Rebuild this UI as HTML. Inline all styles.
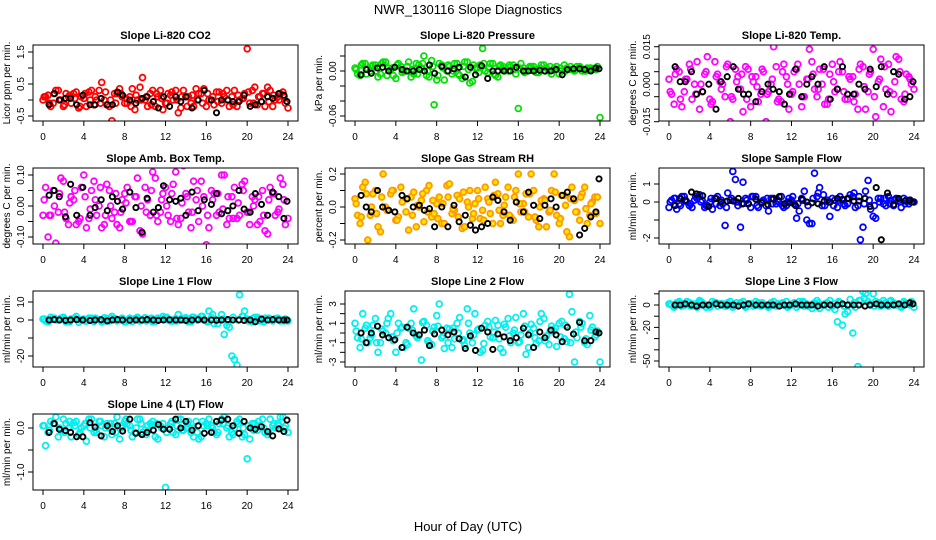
<!DOCTYPE html>
<html><head><meta charset="utf-8"><style>
html,body{margin:0;padding:0;background:#fff;}
svg{display:block;font-family:"Liberation Sans",Arial,sans-serif;}
</style></head><body>
<svg id="chart" width="936" height="540" viewBox="0 0 936 540">
<text x="468" y="14" text-anchor="middle" font-size="13">NWR_130116  Slope Diagnostics</text>
<text x="468" y="531" text-anchor="middle" font-size="13">Hour of Day (UTC)</text>
</svg>
<script>
// ---- shared hour arrays ----
const hoursA = [0,0.5,1,1.5,2,2.5,3,3.5,4,4.5,5,5.5,6,6.5,7,7.5,8,8.5,9,9.5,10,10.5,11,11.5,12,12.5,13,13.5,14,14.5,15,15.5,16,16.5,17,17.5,18,18.5,19,19.5,20,20.5,21,21.5,22,22.5,23,23.5,24];
const hoursB = [0.25,0.75,1.25,1.75,2.25,2.75,3.25,3.75,4.25,4.75,5.25,5.75,6.25,6.75,7.25,7.75,8.25,8.75,9.25,9.75,10.25,10.75,11.25,11.75,12.25,12.75,13.25,13.75,14.25,14.75,15.25,15.75,16.25,16.75,17.25,17.75,18.25,18.75,19.25,19.75,20.25,20.75,21.25,21.75,22.25,22.75,23.25,23.75];
const hoursC = [0.12,0.62,1.12,1.62,2.12,2.62,3.12,3.62,4.12,4.62,5.12,5.62,6.12,6.62,7.12,7.62,8.12,8.62,9.12,9.62,10.12,10.62,11.12,11.62,12.12,12.62,13.12,13.62,14.12,14.62,15.12,15.62,16.12,16.62,17.12,17.62,18.12,18.62,19.12,19.62,20.12,20.62,21.12,21.62,22.12,22.62,23.12,23.62];
const hoursK = [0.6,1.1,1.6,2.2,2.7,3.3,3.9,4.6,5.1,5.7,6.3,6.8,7.3,7.8,8.5,9.1,9.7,10.2,10.8,11.3,11.8,12.4,13,13.5,14,14.6,15.2,15.8,16.5,17,17.5,18.1,18.6,19.2,19.7,20.3,20.8,21.4,22,22.5,23.1,23.6,23.9];
const xTicks = [0,4,8,12,16,20,24];

// ---- P1 CO2 ----
const co2A = [0.0,0.15,-0.1,0.3,-0.2,0.1,0.2,-0.25,0.05,0.25,-0.15,0.3,0.0,-0.2,0.2,0.35,-0.1,0.1,-0.3,0.4,0.0,0.2,-0.2,0.3,-0.1,0.15,0.3,-0.25,0.1,-0.1,0.35,0.2,-0.2,0.0,0.25,-0.1,0.3,0.1,-0.2,0.05,1.6,0.3,-0.15,0.2,0.4,-0.2,0.1,0.25,-0.25];
const co2B = [0.1,-0.2,0.3,0.0,0.2,-0.1,0.25,0.1,-0.2,0.3,0.0,0.55,-0.15,-0.65,0.2,0.1,-0.1,0.35,0.0,0.7,-0.2,0.3,0.1,-0.3,0.2,0.0,-0.4,0.3,0.1,-0.2,0.2,0.35,0.0,-0.15,0.25,0.1,-0.2,0.3,0.0,0.2,-0.1,0.4,0.1,-0.2,0.3,0.0,0.2,-0.1];
const co2C = [0.1,-0.1,0.2,0.0,-0.15,0.15,0.05,-0.2,0.2,0.0,0.1,-0.1,0.25,0.0,-0.1,0.2,0.05,-0.2,0.15,0.0,0.1,-0.15,0.2,0.05,-0.1,0.25,0.0,0.1,-0.2,0.15,0.0,-0.1,0.2,0.1,-0.05,0.2,0.0,-0.15,0.15,0.05,0.25,-0.1,0.1,0.2,-0.05,0.15,0.0,0.1];
const co2K = [-0.15,0.2,0.0,0.05,0.05,-0.15,0.15,-0.15,-0.15,0.05,-0.15,-0.15,0.25,0.15,0.0,-0.1,0.05,0.1,-0.05,-0.25,0.1,-0.2,0.1,-0.05,0.1,-0.25,0.0,0.3,0.0,-0.4,0.0,0.0,-0.05,-0.05,0.15,-0.2,-0.15,-0.05,0.1,0.05,0.2,0.15,-0.05];
const co2Ticks = [-0.5,0,0.5,1,1.5];
const co2Labels = ["-0.5","","0.5","","1.5"];

// ---- P2 Pressure ----
const presA = [0.004,-0.006,0.01,0.0,0.008,-0.004,0.012,0.002,-0.01,0.006,0.0,-0.008,0.01,0.004,-0.006,0.014,-0.012,0.008,0.0,-0.004,0.01,-0.01,0.012,-0.014,0.004,0.03,-0.002,0.01,-0.008,0.006,0.0,0.008,-0.05,0.004,0.004,0.006,-0.002,0.008,0.0,0.004,-0.004,0.008,0.002,0.0,0.006,0.0,0.004,0.002,-0.062];
const presB = [-0.004,0.01,0.002,0.008,-0.008,0.012,0.004,-0.006,0.01,0.0,0.012,-0.004,0.008,0.02,-0.008,-0.045,0.01,-0.012,0.006,0.01,-0.006,0.012,-0.016,0.004,0.008,0.0,0.01,-0.006,0.008,0.002,0.006,-0.004,0.01,0.0,0.006,-0.002,0.008,0.004,-0.004,0.006,0.0,0.004,0.002,0.006,0.0,0.004,0.002,0.006];
const presC = [0.002,0.008,-0.004,0.006,0.0,0.01,-0.006,0.004,0.008,-0.002,0.006,0.002,-0.004,0.01,0.0,0.006,-0.006,0.004,0.008,0.0,-0.004,0.006,0.002,0.008,-0.002,0.01,0.004,-0.004,0.006,0.0,0.008,0.002,0.004,-0.002,0.006,0.002,0.004,0.0,0.006,0.002,0.004,0.0,0.006,0.002,0.004,0.0,0.004,0.002];
const presK = [-0.005,0.002,-0.003,0.004,0.005,0.0,0.005,0.002,0.0,0.0,0.002,0.0,0.008,-0.003,0.006,0.0,0.003,0.005,-0.008,0.005,-0.005,0.007,-0.01,0.0,0.0,0.0,0.0,0.005,0.0,0.0,0.0,0.001,0.0,0.0,0.002,-0.005,0.002,0.003,0.003,0.002,0.0,0.004,0.003];
const presTicks = [-0.06,-0.04,-0.02,0,0.02];
const presLabels = ["-0.06","","","0.00",""];

// ---- P3 Li-820 Temp ----
const tempA = [0.002,-0.008,0.005,-0.003,0.008,0.0,-0.01,0.004,-0.006,0.009,0.001,-0.005,-0.015,0.006,-0.002,0.007,-0.009,0.003,-0.004,-0.015,0.0,0.007,-0.007,0.003,-0.004,0.006,-0.009,0.002,0.009,-0.005,0.0,-0.008,0.008,-0.002,0.005,-0.006,0.003,-0.01,0.007,-0.003,0.014,0.001,-0.009,0.008,-0.004,0.01,-0.007,0.003,-0.002];
const tempB = [-0.004,0.006,-0.009,0.002,-0.006,0.009,-0.003,0.011,-0.007,0.004,0.0,0.008,-0.006,0.003,-0.011,0.006,0.001,-0.007,0.005,-0.003,0.015,-0.006,0.008,-0.01,0.005,0.0,-0.005,0.014,-0.002,0.006,-0.008,0.004,-0.003,0.009,-0.006,0.002,-0.004,0.008,-0.01,0.005,-0.013,0.01,-0.002,-0.011,0.011,-0.006,0.004,0.0];
const tempC = [-0.003,0.004,-0.006,0.002,0.006,-0.004,0.0,0.005,-0.008,0.003,-0.002,0.007,-0.005,0.001,0.004,-0.006,0.003,-0.001,0.006,-0.004,0.002,-0.007,0.005,0.0,-0.003,0.008,-0.005,0.002,0.004,-0.002,0.006,-0.006,0.001,0.005,-0.003,0.003,-0.007,0.006,-0.001,0.004,-0.005,0.002,0.007,-0.003,0.001,0.005,-0.004,0.002];
const tempK = [0.007,0.001,0.001,0.005,-0.004,-0.003,0.0,-0.01,0.001,0.003,0.007,-0.002,-0.004,-0.004,-0.007,-0.003,0.0,-0.002,-0.003,-0.008,-0.004,0.006,-0.005,0.0,0.003,0.0,0.007,-0.006,-0.002,0.007,-0.004,-0.004,0.0,-0.002,0.006,-0.001,0.007,-0.004,0.005,0.004,-0.006,-0.005,0.001];
const tempTicks = [-0.015,-0.01,-0.005,0,0.005,0.01,0.015];
const tempLabels = ["-0.015","","","0.000","","","0.015"];

// ---- P4 Amb Box Temp ----
const ambA = [-0.03,-0.1,0.05,-0.02,0.08,-0.06,0.02,-0.05,0.1,-0.04,0.08,0.0,-0.06,0.05,-0.02,-0.07,0.04,-0.05,0.03,-0.08,0.06,-0.03,0.09,-0.02,0.06,-0.05,0.11,-0.04,0.04,-0.07,0.02,0.08,-0.125,0.05,-0.03,0.1,-0.06,0.03,-0.04,0.07,-0.02,0.03,-0.06,0.05,-0.09,0.04,-0.02,0.07,-0.04];
const ambB = [0.06,-0.03,-0.12,0.09,-0.04,0.03,-0.06,0.06,-0.07,0.05,-0.03,-0.07,0.07,-0.04,-0.06,0.02,0.06,-0.05,0.09,-0.09,0.02,0.11,-0.05,0.04,-0.03,0.07,-0.06,0.13,-0.02,0.08,-0.05,0.03,-0.07,0.04,-0.02,0.1,-0.04,0.06,-0.03,0.08,-0.06,0.02,-0.05,-0.08,0.06,-0.03,0.09,-0.06];
const ambC = [0.02,-0.03,0.0,0.04,-0.02,0.01,0.05,-0.04,0.03,-0.01,0.02,0.06,-0.03,0.0,0.04,-0.02,0.01,-0.05,0.03,0.0,-0.02,0.05,-0.03,0.02,0.0,0.04,-0.04,0.01,0.03,-0.02,0.05,0.0,-0.03,0.02,0.04,-0.01,0.03,-0.04,0.01,0.05,-0.02,0.0,0.03,-0.03,0.02,0.04,-0.01,0.02];
const ambK = [0.035,0.05,0.03,-0.035,0.07,-0.03,0.06,-0.03,-0.005,0.02,-0.015,0.03,0.015,-0.01,0.045,-0.005,-0.085,0.025,-0.02,-0.005,0.065,0.02,0.015,0.025,-0.03,0.045,-0.015,0.02,0.005,0.04,-0.025,-0.015,0.0,0.05,-0.01,-0.02,0.04,0.005,-0.03,0.045,0.03,-0.04,0.015];
const ambTicks = [-0.1,-0.05,0,0.05,0.1];
const ambLabels = ["-0.10","","0.00","","0.10"];

// ---- P5 Gas Stream RH ----
const rhA = [0.05,-0.1,0.15,-0.05,0.1,-0.15,0.0,0.08,-0.08,0.12,-0.03,0.06,-0.12,0.04,0.1,-0.06,0.02,-0.1,0.13,-0.04,0.07,-0.13,0.03,-0.07,0.1,-0.02,0.05,-0.1,0.08,-0.05,0.12,-0.08,0.2,0.02,-0.06,0.1,-0.12,0.05,-0.03,0.2,-0.1,0.07,-0.18,0.04,-0.08,0.12,-0.05,0.06,-0.1];
const rhB = [-0.05,0.12,-0.2,0.08,-0.12,0.2,-0.02,0.1,-0.06,0.04,-0.14,0.09,0.0,-0.09,0.13,-0.04,0.06,-0.1,0.14,-0.02,0.05,-0.12,0.1,0.02,-0.07,0.12,-0.04,0.15,-0.1,0.06,-0.06,0.1,-0.03,0.08,0.2,-0.08,0.04,-0.12,0.1,-0.05,0.07,-0.15,0.12,-0.03,0.08,-0.1,0.03,0.06];
const rhC = [0.02,-0.06,0.08,0.0,-0.04,0.06,-0.02,0.1,-0.08,0.03,0.05,-0.05,0.01,0.08,-0.03,0.04,-0.07,0.02,0.06,-0.01,-0.06,0.09,0.0,-0.04,0.05,-0.08,0.03,0.07,-0.02,0.01,-0.05,0.06,0.02,-0.03,0.08,-0.06,0.0,0.04,-0.02,0.09,-0.07,0.01,0.05,-0.03,0.06,-0.01,0.02,-0.04];
const rhK = [0.07,0.0,-0.03,0.1,0.0,-0.02,-0.03,0.07,0.05,0.0,0.01,-0.02,-0.01,-0.12,0.0,-0.12,0.01,-0.09,-0.05,-0.11,-0.14,-0.12,-0.1,0.06,0.04,-0.03,-0.08,0.03,-0.03,0.09,0.01,-0.07,0.01,0.05,0.0,0.07,0.09,0.05,-0.17,-0.13,-0.06,-0.03,0.17];
const rhTicks = [-0.2,-0.1,0,0.1,0.2];
const rhLabels = ["-0.2","","0.0","","0.2"];

// ---- P6 Sample Flow ----
const sfA = [-0.3,0.2,-0.1,0.3,-0.2,0.1,0.4,-0.3,0.0,0.2,-0.2,-1.3,0.1,1.25,-1.4,0.2,-0.3,0.3,0.0,-0.2,0.2,-0.1,0.3,-0.2,0.1,-0.9,0.2,-1.0,-1.2,0.3,-0.2,0.1,0.2,-0.3,0.1,-0.1,0.3,-0.2,-1.4,1.2,-0.8,0.2,-0.1,0.3,-0.2,0.1,0.2,-0.1,0.0];
const sfB = [0.1,-0.4,0.3,0.0,-0.3,0.2,0.1,-0.2,-0.4,0.3,-0.1,0.5,1.7,-0.2,1.1,-0.1,0.3,-0.3,0.1,-0.5,0.2,0.0,-0.3,0.2,-0.1,-0.5,0.6,-1.2,1.6,0.8,-0.2,-0.8,0.1,0.3,-0.2,0.4,-0.3,-2.1,0.6,-0.4,-0.9,0.2,-0.2,0.1,0.2,-0.3,0.1,0.0];
const sfC = [0.0,0.2,-0.2,0.1,-0.1,0.3,0.0,-0.2,0.2,-0.1,0.1,-0.3,0.2,0.0,-0.1,0.1,0.3,-0.2,0.0,0.2,-0.1,0.1,-0.2,0.0,0.3,-0.1,0.1,-0.2,0.2,0.5,0.4,0.0,-0.2,0.1,-0.1,0.2,0.5,0.3,-0.1,0.1,-0.2,0.0,0.2,-0.1,0.1,0.0,-0.1,0.1];
const sfK = [-0.2,0.2,0.1,0.55,0.45,0.35,-0.25,0.2,0.0,0.05,0.05,0.2,-0.1,-0.1,0.15,-0.05,-0.15,0.15,0.3,-0.1,-0.05,-0.2,0.15,0.0,-0.05,-0.1,0.05,0.0,0.2,0.15,0.2,0.05,0.05,0.2,-0.25,0.8,-2.1,0.5,-0.15,0.2,0.05,0.1,0.0];
const sfTicks = [-2,-1,0,1];
const sfLabels = ["-2","","0","1"];

// ---- P7 Line 1 Flow ----
const l1A = [0.5,-1,1,0,1.5,-0.5,0.8,-1.2,0.5,1,-0.8,0.2,1.2,-0.5,0.8,0,-1,1,0.5,-0.5,1.2,0,-0.8,0.6,1.5,-0.6,0.8,0,1.2,-1,0.8,2,-0.5,1.2,0,3,-3,-20,-25,2,0.5,-1,1.5,0,0.8,-0.5,1,0,-0.5];
const l1B = [-0.5,1.5,0,1,-1,0.5,2,0,-0.6,1,0.5,-1,0.8,2,-0.5,1,0,-0.8,1.5,0,0.5,-1,1,2,0,-0.5,3,0,-1,1.5,0.5,0,5,-2,0,-8,-4,-22,14,5,0,1.5,-0.5,1,0,0.8,-0.5,0.5];
const l1C = [0.5,-0.5,1,0,0.5,-1,1,0,-0.5,0.5,1,0,-0.5,1,0.5,0,-1,0.5,1,0,-0.5,1,0,0.5,1.5,0,-0.5,1,0.5,1.5,0,2,-1,3,-2,0.5,-1,1.5,0,2,-0.5,1,0.5,-1,1,0,0.5,-0.5];
const l1K = [0,0.2,0,-0.2,0,0.2,0,-0.3,0,0.1,-0.5,0,0.2,0,-0.1,0,0,0.2,0,-0.2,0,0.1,0,0,-0.2,0,0.1,0,0,-0.1,0,0.2,0,0,-0.2,0,-1,0.5,0,0.2,0,0,0];
const l1Ticks = [-20,-10,0,10];
const l1Labels = ["-20","","0","10"];

// ---- P8 Line 2 Flow ----
const l2A = [1,-1.5,0.5,-0.5,1.5,-1,0,2,-2,0.5,-1,1,-0.3,-2.8,0.8,-1.2,1.8,-0.5,0.5,-1.5,1,-0.8,2.5,-1,0.3,-1.8,1.2,-0.5,0.8,-2,1.5,0,-1,2,-1.5,0.5,-0.8,1.5,-1.2,0.2,1,-0.6,4,-3,1.2,-1,1.8,-0.4,-3];
const l2B = [-0.5,2,-1,0.8,-2,0.2,1.5,-0.8,1,-1.5,0.5,2.5,-0.2,1.2,-1,0.6,3,-1.6,0.4,-0.6,1.6,-1.3,0,2,-2,0.8,-0.4,1.3,-1.6,0.6,-1,1.6,-0.2,-2.2,0.9,-1.1,2,-0.3,0.7,-1.4,1.2,-0.9,2.2,-0.5,1,-1.2,0.6,0.2];
const l2C = [0.2,-0.6,0.8,-0.2,-1,0.4,1,-0.4,0,0.6,-1.2,0.3,-0.5,1.1,-0.8,0.2,0.7,-0.3,-1,0.5,0,-0.7,1,-0.2,0.4,-1.1,0.6,0.1,-0.6,0.9,-0.3,0.3,-0.9,0.7,0,-0.5,1.2,-0.8,0.2,0.5,-0.4,0.8,-1,0.1,0.6,-0.6,0.3,-0.2];
const l2K = [0,-1,0,0.7,-0.2,-0.5,-0.7,-1.5,0.6,0,-0.2,0.3,-1.3,-0.1,0.3,-0.2,0.1,-0.6,-1.6,-0.3,-1.8,0.5,0.1,-1.7,-0.1,-0.4,-0.8,-0.5,0.5,-0.2,-1.5,0.1,-0.5,0.3,-0.2,-0.9,0.6,-0.1,1.1,-0.8,-0.8,0.1,0];
const l2Ticks = [-3,-2,-1,0,1,2,3];
const l2Labels = ["-3","","-1","","1","","3"];

// ---- P9 Line 3 Flow ----
const l3A = [1,-2,3,0,2,-1,4,0,-2,2,1,-1,3,0,2,-2,1,3,-1,0,2,-1,1,3,0,-2,2,1,-3,4,0,2,-1,-15,-18,-6,-25,-55,12,3,10,1,4,-1,2,0,3,1,-2];
const l3B = [0,2,-1,3,1,-2,2,0,3,-1,1,2,-2,0,3,1,-1,2,0,-2,3,1,0,-1,2,3,-1,0,2,-3,1,4,-4,2,-8,5,-2,4,10,0,3,-1,2,4,0,-2,1,3];
const l3C = [1,-1,2,0,-1,1,3,-2,0,2,1,-1,0,2,1,-1,1,0,2,-1,0,1,2,-2,1,0,3,-1,1,2,0,-2,1,3,-1,0,2,4,6,1,-1,2,0,3,1,-1,2,0];
const l3K = [0,0,1,0,-1,0,0,1,0,0,0,-1,0,1,0,0,0,0,-1,0,0,1,0,0,0,-1,0,0,0,1,0,0,0,-1,0,1,0,0,0,1,0,2,1];
const l3Ticks = [-50,-40,-30,-20,-10,0,10];
const l3Labels = ["-50","","","-20","","0",""];

// ---- P10 Line 4 (LT) Flow ----
const l4A = [0.05,-0.1,0.1,-0.2,0.2,0.0,0.12,-0.15,0.05,0.2,-0.1,0.15,-0.2,0.0,0.1,-0.25,0.15,0.05,-0.1,0.2,-0.05,0.1,-0.2,0.05,-1.35,0.1,-0.15,0.2,0.0,-0.1,0.15,-0.2,0.1,0.05,-0.15,0.2,0.0,-0.1,0.15,-0.2,-0.7,0.1,-0.05,0.2,-0.15,0.05,0.1,0.25,-0.1];
const l4B = [-0.4,0.15,0.25,-0.05,0.1,-0.2,0.15,0.0,-0.3,0.2,-0.1,0.05,0.1,-0.15,0.25,0.0,0.1,-0.2,0.2,-0.1,0.05,0.15,-0.25,0.1,0.0,-0.1,0.2,-0.05,0.15,-0.2,-0.25,0.05,0.2,-0.1,0.1,0.25,-0.2,0.0,0.2,-0.15,-0.25,0.1,0.05,-0.1,0.2,0.0,0.25,0.05];
const l4C = [0.05,-0.05,0.1,0.0,-0.1,0.15,0.05,-0.1,0.1,0.0,-0.05,0.15,0.0,0.1,-0.1,0.05,0.2,-0.05,0.0,0.1,-0.15,0.05,0.1,0.0,-0.1,0.15,0.05,-0.05,0.1,0.0,-0.1,0.15,0.05,0.0,-0.1,0.1,0.05,-0.15,0.1,0.0,0.05,-0.05,0.15,0.0,-0.1,0.1,0.05,0.0];
const l4K = [-0.1,0.1,-0.03,-0.06,-0.1,-0.2,-0.2,0.12,0.02,-0.18,0.05,-0.08,0.05,-0.07,0.2,-0.12,-0.15,-0.1,-0.05,0.08,-0.03,-0.03,0.2,0.0,0.15,-0.05,0.05,-0.12,-0.1,0.15,0.18,0.2,0.05,-0.12,0.15,0.0,-0.03,0.03,-0.08,-0.18,-0.02,-0.08,0.18];
const l4Ticks = [-1,-0.5,0];
const l4Labels = ["-1.0","","0.0"];

const NS = "http://www.w3.org/2000/svg";
const svg = document.getElementById("chart");
function el(tag, attrs, parent) {
  const e = document.createElementNS(NS, tag);
  for (const k in attrs) e.setAttribute(k, attrs[k]);
  (parent || svg).appendChild(e);
  return e;
}

const colsX = [33, 345, 659];
const rowsY = [45, 168, 291, 414];
const W = 265, H = 76;

const panels = [
  {key:"co2", title:"Slope Li-820 CO2", ylab:"Licor ppm per min.", c:0, r:0, A:co2A, B:co2B, C:co2C, K:co2K, ticks:co2Ticks, labels:co2Labels, v0:0.5, p0:84, v1:-0.5, p1:116, col:"#ff0000", fill:"none"},
  {key:"pressure", title:"Slope Li-820 Pressure", ylab:"kPa per min.", c:1, r:0, A:presA, B:presB, C:presC, K:presK, ticks:presTicks, labels:presLabels, v0:0, p0:71, v1:-0.06, p1:116, col:"#00e000", fill:"none"},
  {key:"li820-temp", title:"Slope Li-820 Temp.", ylab:"degrees C per min.", c:2, r:0, A:tempA, B:tempB, C:tempC, K:tempK, ticks:tempTicks, labels:tempLabels, v0:0.015, p0:46.7, v1:-0.015, p1:121.7, col:"#ff00ff", fill:"none"},
  {key:"amb-box-temp", title:"Slope Amb. Box Temp.", ylab:"degrees C per min.", c:0, r:1, A:ambA, B:ambB, C:ambC, K:ambK, ticks:ambTicks, labels:ambLabels, v0:0.1, p0:175, v1:0, p1:206, col:"#ff00ff", fill:"none"},
  {key:"gas-stream-rh", title:"Slope Gas Stream RH", ylab:"percent per min.", c:1, r:1, A:rhA, B:rhB, C:rhC, K:rhK, ticks:rhTicks, labels:rhLabels, v0:0.2, p0:174, v1:-0.2, p1:240, col:"#ff9900", fill:"#ffe600"},
  {key:"sample-flow", title:"Slope Sample Flow", ylab:"ml/min per min.", c:2, r:1, A:sfA, B:sfB, C:sfC, K:sfK, ticks:sfTicks, labels:sfLabels, v0:1, p0:184, v1:0, p1:202, col:"#0000ff", fill:"none"},
  {key:"line1-flow", title:"Slope Line 1 Flow", ylab:"ml/min per min.", c:0, r:2, A:l1A, B:l1B, C:l1C, K:l1K, ticks:l1Ticks, labels:l1Labels, v0:10, p0:302, v1:0, p1:320, col:"#00f0f0", fill:"none"},
  {key:"line2-flow", title:"Slope Line 2 Flow", ylab:"ml/min per min.", c:1, r:2, A:l2A, B:l2B, C:l2C, K:l2K, ticks:l2Ticks, labels:l2Labels, v0:3, p0:304, v1:-3, p1:362, col:"#00f0f0", fill:"none"},
  {key:"line3-flow", title:"Slope Line 3 Flow", ylab:"ml/min per min.", c:2, r:2, A:l3A, B:l3B, C:l3C, K:l3K, ticks:l3Ticks, labels:l3Labels, v0:0, p0:305, v1:-50, p1:361, col:"#00f0f0", fill:"none"},
  {key:"line4-flow", title:"Slope Line 4 (LT) Flow", ylab:"ml/min per min.", c:0, r:3, A:l4A, B:l4B, C:l4C, K:l4K, ticks:l4Ticks, labels:l4Labels, v0:0, p0:428, v1:-1, p1:472, col:"#00f0f0", fill:"none"}
];

panels.forEach(p => {
  const L = colsX[p.c], T = rowsY[p.r], B = T + H;
  const g = el("g", {});
  
  
  const xs = h => L + 10 + h / 24 * 245;
  const ys = v => p.p0 + (v - p.v0) * (p.p1 - p.p0) / (p.v1 - p.v0);
  const clip = "clip-" + p.key;
  const cp = el("clipPath", {id: clip}, g);
  el("rect", {x: L, y: T, width: W, height: H}, cp);

  const t = el("text", {x: L + W / 2, y: T - 6, "text-anchor": "middle", "font-size": "11", "font-weight": "bold"}, g);
  t.textContent = p.title;
  
  

  const pts = el("g", {"clip-path": "url(#" + clip + ")"}, g);
  
  
  [[hoursA, p.A], [hoursB, p.B], [hoursC, p.C]].forEach(([hs, vs]) => {
    const n = Math.min(hs.length, vs.length);
    for (let i = 0; i < n; i++) {
      const c = el("circle", {cx: xs(hs[i]).toFixed(1), cy: ys(vs[i]).toFixed(1), r: 2.9, fill: p.fill, stroke: p.col, "stroke-width": 1.8}, pts);
      
      
    }
  });
  const nk = Math.min(hoursK.length, p.K.length);
  for (let i = 0; i < nk; i++) {
    const c = el("circle", {cx: xs(hoursK[i]).toFixed(1), cy: ys(p.K[i]).toFixed(1), r: 2.6, fill: "none", stroke: "#000", "stroke-width": 1.9}, pts);
    
    
  }

  const box = el("rect", {x: L, y: T, width: W, height: H, fill: "none", stroke: "#000", "stroke-width": 1}, g);
  
  

  xTicks.forEach(h => {
    el("line", {x1: xs(h), y1: B, x2: xs(h), y2: B + 5, stroke: "#000"}, g);
    const tl = el("text", {x: xs(h), y: B + 19, "text-anchor": "middle", "font-size": "10"}, g);
    tl.textContent = String(h);
    
    
  });
  p.ticks.forEach((v, i) => {
    const y = ys(v);
    el("line", {x1: L - 5, y1: y, x2: L, y2: y, stroke: "#000"}, g);
    const lab = p.labels[i];
    if (lab) {
      const tl = el("text", {x: L - 9, y: y, "text-anchor": "middle", "font-size": "10", transform: "rotate(-90 " + (L - 9) + " " + y + ")"}, g);
      tl.textContent = lab;
      
      
    }
  });
  const yl = L - 23, ym = T + H / 2;
  const yt = el("text", {x: yl, y: ym, "text-anchor": "middle", "font-size": "10", transform: "rotate(-90 " + yl + " " + ym + ")"}, g);
  yt.textContent = p.ylab;
  
  
});
</script>
</body></html>
